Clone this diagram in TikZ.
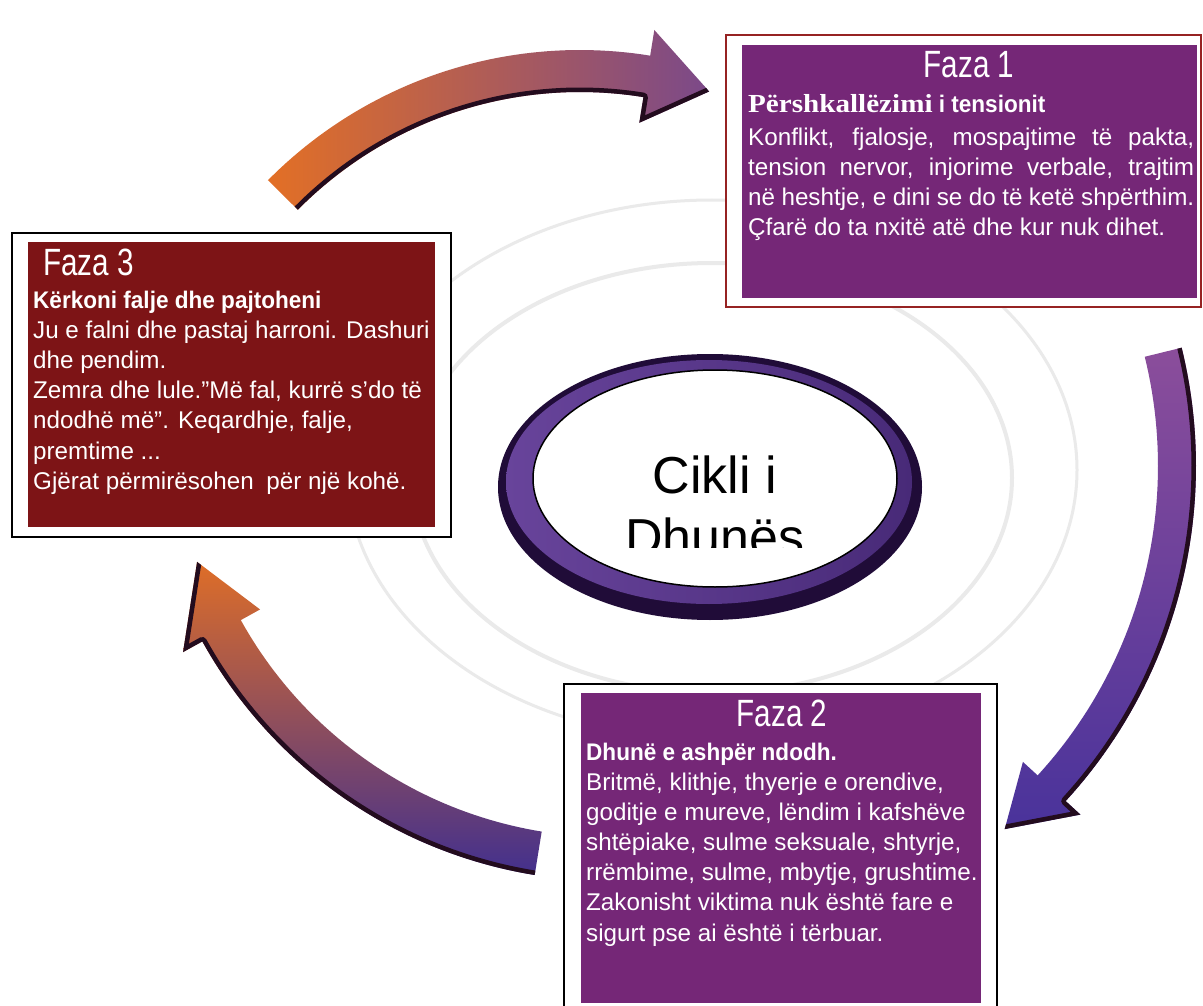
\documentclass[tikz,border=0pt]{standalone}
\usepackage{fontspec}
\setmainfont{Liberation Sans}
\newfontfamily\headfont[FakeStretch=0.78]{Liberation Sans}
\newfontfamily\subfont[FakeStretch=0.94]{Liberation Sans}
\newfontfamily\serifbold[FakeStretch=1.12]{Liberation Serif}
\definecolor{fpurple}{RGB}{117,39,119}
\definecolor{fred}{RGB}{125,20,22}
\definecolor{bordred}{RGB}{150,35,35}
\definecolor{aorange}{RGB}{228,112,36}
\definecolor{ared}{RGB}{190,85,80}
\definecolor{apurple}{RGB}{120,72,140}
\definecolor{amauve}{RGB}{150,70,115}
\definecolor{ablue}{RGB}{62,46,145}
\definecolor{rtop}{RGB}{140,78,155}
\definecolor{rbot}{RGB}{72,50,155}
\definecolor{edgedark}{RGB}{35,12,30}
\definecolor{ringdark}{RGB}{32,12,56}
\definecolor{ringmid}{RGB}{72,42,120}
\definecolor{ringlight}{RGB}{104,68,155}
\definecolor{ringgray}{RGB}{234,234,234}

% #1 cx, #2 cy, #3 r, #4 half band width, #5 half head width,
% #6 tail angle, #7 head base angle, #8 tip angle, #9 tip radius
\newcommand\cyclearrow[9]{%
  \begin{scope}
    \clip plot[domain=#6:#7,samples=50] ({#1+(#3+#4)*cos(\x)},{#2+(#3+#4)*sin(\x)})
      -- ({#1+(#3+#5)*cos(#7)},{#2+(#3+#5)*sin(#7)})
      -- ({#1+#9*cos(#8)},{#2+#9*sin(#8)})
      -- ({#1+(#3-#5)*cos(#7)},{#2+(#3-#5)*sin(#7)})
      -- plot[domain=#7:#6,samples=50] ({#1+(#3-#4)*cos(\x)},{#2+(#3-#4)*sin(\x)})
      -- cycle;
    \arrowfill
    \draw[edgedark, line width=9, line join=round]
      plot[domain=#6:#7,samples=50] ({#1+(#3\edgesign#4)*cos(\x)},{#2+(#3\edgesign#4)*sin(\x)})
      -- ({#1+(#3\edgesign#5)*cos(#7)},{#2+(#3\edgesign#5)*sin(#7)})
      -- ({#1+#9*cos(#8)},{#2+#9*sin(#8)});
  \end{scope}}

\begin{document}
\begin{tikzpicture}[x=1pt,y=-1pt,
  phasehead/.style={anchor=base, inner sep=0pt, text=white, font=\headfont\fontsize{38}{42}\selectfont},
  phasesub/.style={anchor=base west, inner sep=0pt, text=white, font=\subfont\bfseries\fontsize{24}{28}\selectfont},
  phasebody/.style={anchor=base west, inner sep=0pt, text=white, font=\fontsize{24.2}{28}\selectfont},
  centertext/.style={anchor=base, inner sep=0pt, text=black, font=\fontsize{52}{60}\selectfont},
  bgring/.style={draw=ringgray, line width=4}]
\useasboundingbox (0,0) rectangle (1203,1006);
\fill[white] (0,0) rectangle (1203,1006);

% faint background rings
\draw[bgring] (712,478) ellipse [x radius=300pt, y radius=215pt];
\draw[bgring, line width=3] (712,470) ellipse [x radius=365pt, y radius=270pt];

% top arrow (Faza 3 -> Faza 1)
\def\edgesign{-}
\def\arrowfill{\shade[left color=aorange, middle color=ared, right color=apurple] (262,20) rectangle (722,225);}
\cyclearrow{580}{489}{418}{21}{47}{-135.3}{-80.8}{-72}{418}

% right arrow (Faza 1 -> Faza 2)
\def\edgesign{+}
\def\arrowfill{\shade[top color=rtop, bottom color=rbot] (995,340) rectangle (1203,840);}
\cyclearrow{700}{466}{477}{19}{39}{-13.8}{42.5}{50}{474}

% bottom-left arrow (Faza 2 -> Faza 3)
\def\edgesign{+}
\def\arrowfill{\shade[top color=aorange, middle color=amauve, bottom color=ablue] (170,550) rectangle (560,885);}
\cyclearrow{609}{416}{443}{22}{44}{99.2}{151}{160.5}{437}

% central ring
\fill[ringdark] (710,487) ellipse [x radius=212pt, y radius=133pt];
\shade[left color=ringlight, right color=ringmid] (709,482) ellipse [x radius=203pt, y radius=122pt];
\draw[black, line width=1.5, fill=white] (715,478.5) ellipse [x radius=182pt, y radius=108.5pt];
\begin{scope}
  \clip (500,340) rectangle (930,547);
  \node[centertext] (c1) at (715,493) {Cikli i};
  \node[centertext] (c2) at (715,555) {Dhunës};
\end{scope}

% Faza 1 box
\draw[bordred, line width=2, fill=white] (726,35) rectangle (1201,307);
\fill[fpurple] (742,45) rectangle (1197,298);
\node[phasehead] (f1h) at (969,78) {Faza 1};
\node[phasesub] (f1s) at (748,113) {{\serifbold\bfseries\fontsize{26}{28}\selectfont Përshkallëzimi} i tensionit};
\node[phasebody] (f1a) at (748,145.5) {\makebox[446pt][s]{Konflikt, fjalosje, mospajtime të pakta,}};
\node[phasebody] (f1b) at (748,175.5) {\makebox[446pt][s]{tension nervor, injorime verbale, trajtim}};
\node[phasebody] (f1c) at (748,205.5) {\makebox[446pt][s]{në heshtje, e dini se do të ketë shpërthim.}};
\node[phasebody] (f1d) at (748,235.5) {Çfarë do ta nxitë atë dhe kur nuk dihet.};

% Faza 3 box
\draw[black, line width=2, fill=white] (12,233) rectangle (451,537);
\fill[fred] (28,242) rectangle (435,527);
\node[phasehead, anchor=base west] (f3h) at (43,275) {Faza 3};
\node[phasesub] (f3s) at (33,308) {Kërkoni falje dhe pajtoheni};
\node[phasebody] (f3a) at (33,338.3) {Ju e falni dhe pastaj harroni. Dashuri};
\node[phasebody] (f3b) at (33,368.5) {dhe pendim.};
\node[phasebody] (f3c) at (33,398.7) {Zemra dhe lule.”Më fal, kurrë s’do të};
\node[phasebody] (f3d) at (33,428.9) {ndodhë më”. Keqardhje, falje,};
\node[phasebody] (f3e) at (33,459.1) {premtime ...};
\node[phasebody] (f3f) at (33,489.3) {Gjërat përmirësohen\hspace{6pt} për një kohë.};

% Faza 2 box
\draw[black, line width=2, fill=white] (564,684) rectangle (997,1010);
\fill[fpurple] (581,693) rectangle (981,1003);
\node[phasehead] (f2h) at (782,726) {Faza 2};
\node[phasesub] (f2s) at (586,760) {Dhunë e ashpër ndodh.};
\node[phasebody] (f2a) at (586,790) {Britmë, klithje, thyerje e orendive,};
\node[phasebody] (f2b) at (586,820.2) {goditje e mureve, lëndim i kafshëve};
\node[phasebody] (f2c) at (586,850.4) {shtëpiake, sulme seksuale, shtyrje,};
\node[phasebody] (f2d) at (586,880.6) {rrëmbime, sulme, mbytje, grushtime.};
\node[phasebody] (f2e) at (586,910.8) {Zakonisht viktima nuk është fare e};
\node[phasebody] (f2f) at (586,941) {sigurt pse ai është i tërbuar.};
\end{tikzpicture}
\end{document}
